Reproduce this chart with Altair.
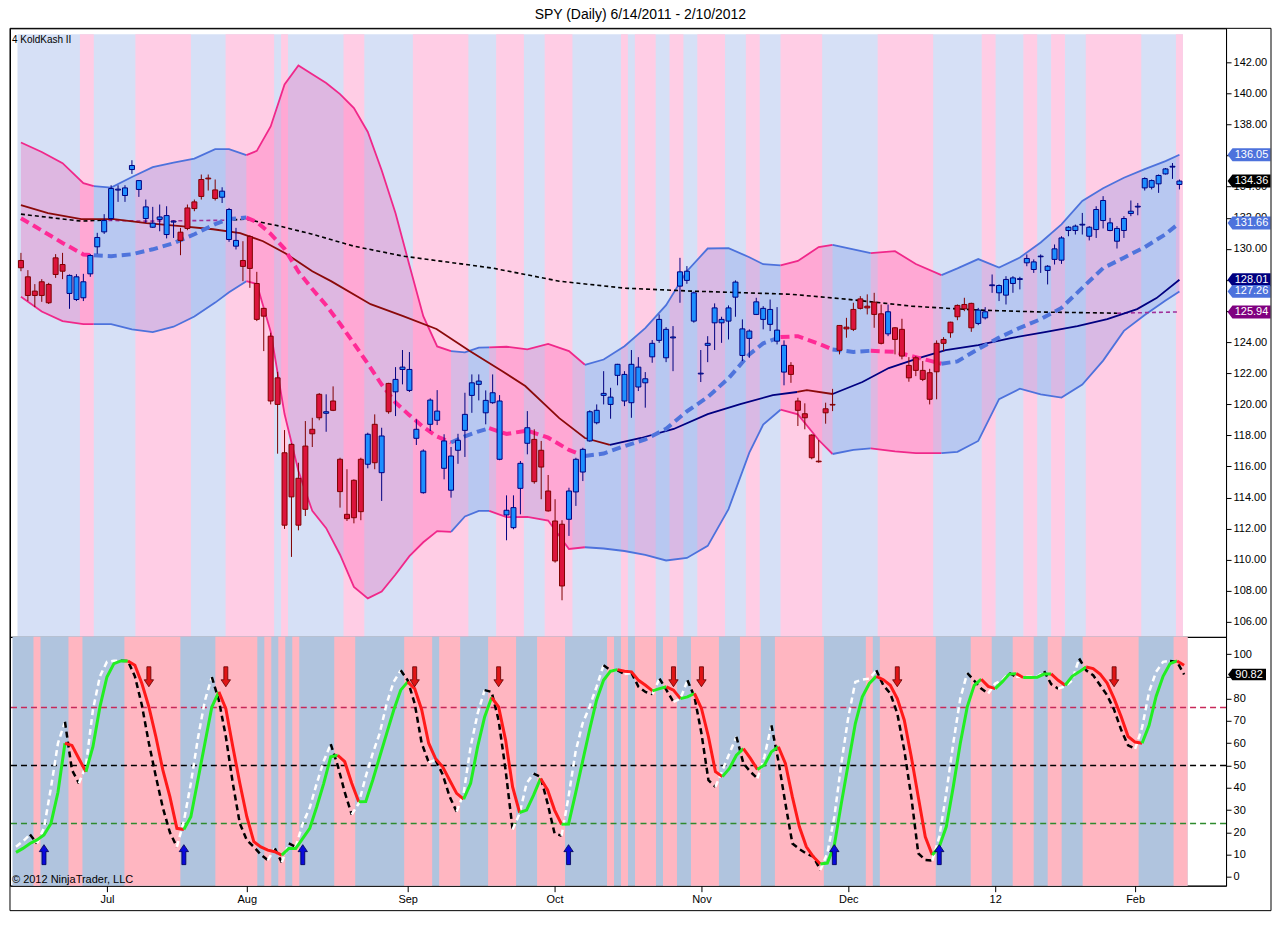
import altair as alt
import pandas as pd

# ---------------------------------------------------------------- text / axis data
TITLE = "SPY (Daily)  6/14/2011 - 2/10/2012"
INDICATOR_NAME = "4 KoldKash II"
COPYRIGHT = "\u00a9 2012 NinjaTrader, LLC"
MONTH_DAYS = [13, 33, 56, 77, 98, 119, 140, 160]
MONTH_LABELS = ["Jul", "Aug", "Sep", "Oct", "Nov", "Dec", "12", "Feb"]
PRICE_TICKS = list(range(106, 143, 2))
OSC_TICKS = list(range(0, 101, 10))

# ---------------------------------------------------------------- daily candles (trading-day index 0..167)
OPEN = [129.25, 128.20, 127.28, 127.88, 127.71, 129.42, 128.99, 127.13, 126.74, 126.85,
        128.39, 130.13, 131.09, 131.95, 133.78, 133.43, 135.10, 133.82, 131.95, 131.39,
        131.89, 130.92, 131.72, 131.07, 132.63, 133.02, 134.46, 134.55, 133.79, 133.32,
        130.60, 130.17, 129.25, 130.79, 127.77, 126.17, 124.38, 121.70, 116.88, 117.42,
        115.24, 117.31, 118.39, 120.64, 119.42, 120.21, 116.46, 112.92, 115.11, 116.46,
        116.14, 118.71, 115.60, 121.34, 120.80, 122.24, 120.89, 117.81, 114.31, 118.71,
        118.97, 115.88, 114.47, 117.04, 118.32, 120.57, 121.28, 119.45, 120.10, 116.46,
        112.88, 112.06, 114.59, 117.49, 117.74, 117.04, 114.42, 112.49, 112.28, 112.60,
        114.36, 115.64, 117.64, 118.81, 120.57, 119.99, 121.86, 120.21, 120.10, 121.11,
        121.38, 123.05, 124.11, 122.99, 124.27, 127.60, 127.97, 125.35, 121.95, 123.79,
        125.24, 125.24, 125.35, 126.89, 123.14, 124.24, 125.78, 125.46, 125.14, 124.06,
        122.07, 122.50, 120.21, 119.39, 118.02, 116.34, 119.71, 119.99, 125.07, 124.96,
        126.10, 126.78, 126.31, 126.57, 125.82, 124.53, 124.92, 124.82, 122.50, 122.99,
        122.18, 122.03, 123.92, 124.17, 125.28, 126.36, 126.42, 126.49, 125.20, 125.56,
        127.63, 127.17, 127.02, 127.77, 128.03, 129.10, 128.67, 129.49, 128.61, 129.32,
        129.27, 131.18, 131.18, 131.53, 130.81, 131.24, 131.82, 131.18, 130.49, 131.18,
        132.27, 132.69, 133.92, 133.96, 134.18, 134.82, 135.26, 134.14]
HIGH = [129.74, 128.63, 127.73, 128.05, 127.81, 129.66, 129.74, 128.35, 128.37, 128.39,
        129.66, 131.03, 132.23, 134.09, 134.09, 134.09, 135.70, 134.42, 133.17, 132.70,
        132.85, 132.74, 131.82, 131.35, 132.85, 133.17, 134.78, 134.78, 134.46, 133.96,
        132.63, 131.35, 130.49, 130.88, 128.52, 126.20, 124.60, 122.09, 118.34, 117.48,
        116.24, 118.92, 119.13, 120.72, 120.64, 121.15, 116.56, 115.82, 115.17, 116.56,
        118.17, 119.35, 118.49, 121.38, 122.39, 123.49, 123.36, 119.03, 117.10, 120.38,
        120.91, 118.07, 117.25, 118.10, 120.74, 121.92, 121.92, 120.89, 121.92, 120.59,
        114.14, 114.14, 116.35, 119.56, 118.39, 117.64, 115.45, 113.89, 112.54, 114.63,
        116.56, 117.20, 119.61, 119.99, 122.13, 121.06, 122.60, 122.13, 123.49, 123.03,
        122.07, 124.13, 125.78, 124.96, 125.03, 129.42, 128.89, 127.25, 123.49, 124.38,
        126.49, 125.63, 126.36, 127.97, 125.46, 124.82, 126.85, 126.31, 126.74, 126.25,
        124.11, 122.71, 120.42, 120.06, 118.07, 117.70, 120.10, 120.99, 125.10, 125.56,
        126.53, 126.96, 127.07, 127.17, 126.42, 126.42, 124.96, 125.50, 123.03, 123.10,
        122.78, 122.28, 124.11, 124.32, 125.31, 126.42, 126.85, 126.53, 126.20, 126.25,
        128.35, 127.71, 128.24, 128.24, 128.20, 129.64, 129.32, 129.64, 128.95, 130.28,
        130.81, 131.46, 131.56, 132.31, 131.46, 132.74, 133.39, 131.99, 131.46, 132.10,
        133.11, 132.95, 134.60, 134.46, 134.78, 135.20, 135.52, 134.46]
LOW = [128.56, 126.64, 126.25, 126.59, 126.45, 128.13, 128.05, 126.14, 126.64, 126.64,
       128.20, 129.68, 130.96, 131.82, 133.02, 133.02, 134.82, 133.34, 131.67, 131.35,
       131.13, 130.67, 130.70, 129.59, 131.20, 132.42, 133.17, 133.75, 133.11, 132.95,
       130.45, 129.96, 127.92, 127.49, 125.35, 123.42, 119.99, 116.82, 111.98, 110.18,
       111.89, 112.81, 117.25, 118.97, 118.23, 119.56, 113.35, 112.49, 112.34, 112.54,
       115.88, 115.82, 113.78, 119.39, 119.24, 121.28, 120.79, 117.38, 114.25, 118.28,
       118.66, 115.17, 113.99, 116.17, 116.61, 119.45, 120.25, 118.71, 120.03, 116.40,
       111.25, 111.96, 112.92, 116.78, 114.89, 113.89, 113.09, 109.81, 107.39, 111.53,
       113.46, 115.06, 117.59, 118.71, 119.99, 119.07, 121.22, 119.88, 119.13, 120.85,
       119.78, 122.67, 123.95, 122.71, 122.13, 126.53, 127.75, 125.25, 121.43, 122.71,
       123.49, 123.95, 124.17, 125.63, 122.78, 122.99, 125.74, 124.82, 124.71, 123.85,
       121.22, 121.38, 118.60, 118.39, 116.46, 116.24, 118.75, 119.56, 123.21, 124.28,
       124.71, 126.10, 125.78, 124.92, 123.85, 124.38, 123.21, 122.89, 121.45, 121.81,
       121.49, 119.99, 120.32, 123.42, 124.28, 125.41, 125.99, 124.66, 125.09, 125.46,
       127.17, 126.64, 126.42, 127.17, 127.39, 128.88, 128.45, 128.45, 127.71, 128.99,
       129.03, 130.81, 130.92, 130.92, 130.54, 130.70, 131.31, 131.13, 130.02, 130.70,
       132.10, 132.16, 133.75, 133.82, 133.60, 134.78, 134.50, 133.82]
CLOSE = [128.78, 127.00, 127.00, 127.00, 126.53, 128.35, 128.56, 128.29, 128.20, 127.88,
         129.57, 130.73, 131.82, 133.88, 133.84, 133.92, 135.36, 134.39, 132.70, 131.65,
         132.05, 132.14, 131.78, 130.54, 131.31, 132.59, 133.37, 134.50, 133.24, 133.71,
         132.53, 130.54, 128.87, 128.74, 125.46, 125.67, 120.21, 119.99, 112.22, 114.04,
         112.22, 113.24, 118.10, 119.13, 119.52, 119.61, 114.38, 112.64, 112.70, 113.09,
         118.07, 116.24, 117.96, 119.52, 121.60, 122.39, 122.24, 118.39, 116.99, 120.27,
         119.56, 117.64, 116.67, 117.68, 119.35, 121.38, 121.49, 120.25, 120.74, 120.21,
         113.18, 113.35, 116.20, 118.49, 115.02, 115.96, 113.14, 109.92, 108.31, 114.42,
         116.46, 117.10, 119.52, 119.61, 120.70, 120.46, 122.57, 121.92, 122.57, 122.39,
         121.64, 123.92, 125.46, 124.82, 124.33, 128.52, 128.56, 127.17, 122.00, 123.92,
         126.20, 125.46, 126.20, 127.86, 124.85, 124.71, 126.59, 126.17, 126.10, 124.77,
         123.79, 121.92, 119.61, 119.13, 116.56, 116.30, 119.45, 119.95, 123.47, 124.85,
         124.82, 126.17, 126.20, 125.78, 123.92, 125.95, 124.17, 123.10, 121.70, 122.18,
         121.60, 120.32, 122.09, 123.92, 124.60, 125.63, 126.14, 124.92, 126.06, 125.95,
         127.68, 127.64, 128.03, 128.13, 128.08, 129.38, 129.16, 129.53, 128.88, 130.00,
         130.70, 131.39, 131.46, 131.58, 131.39, 132.53, 133.11, 131.67, 131.31, 131.95,
         132.42, 132.74, 134.52, 134.39, 134.72, 135.14, 135.31, 134.36]

# ---------------------------------------------------------------- bands (read at these day positions)
BAND_DAY = [0, 3, 6, 9, 10.5, 13, 16, 19, 22, 25, 28, 30, 32.5, 34, 36, 38, 40, 42, 44, 46,
            48, 50, 52, 54, 56, 58, 60, 62, 64, 66, 67.5, 70, 73, 76, 79, 81.3, 84, 87, 90, 93,
            96, 99, 102, 105, 107, 109.5, 112, 115, 117, 120, 122.5, 126, 129, 132.7, 135, 138,
            141, 144, 147, 150, 153, 156, 159, 162, 165, 167]
UPPER = [136.84, 136.23, 135.51, 134.22, 134.03, 133.94, 134.62, 135.26, 135.55, 135.80,
         136.41, 136.41, 136.03, 136.30, 137.87, 140.57, 141.79, 141.23, 140.67, 139.95,
         139.06, 137.52, 135.06, 132.29, 128.95, 125.67, 123.72, 123.42, 123.34, 123.65,
         123.66, 123.70, 123.53, 123.88, 123.42, 122.54, 122.88, 123.73, 124.90, 126.38,
         128.56, 130.02, 130.04, 129.46, 129.01, 128.93, 129.22, 130.11, 130.26, 129.96,
         129.72, 129.85, 129.02, 128.31, 128.74, 129.34, 128.80, 129.44, 130.41, 131.57,
         133.08, 133.90, 134.57, 135.13, 135.64, 136.05]
LOWER = [126.92, 125.97, 125.35, 125.16, 125.16, 125.16, 124.82, 124.64, 124.99, 125.65,
         126.54, 127.21, 127.92, 127.74, 124.67, 119.37, 115.71, 113.14, 112.03, 110.32,
         108.25, 107.51, 107.95, 109.05, 110.23, 111.12, 111.84, 111.79, 112.78, 113.14,
         113.14, 112.74, 112.75, 112.52, 110.69, 110.80, 110.72, 110.56, 110.31, 109.95,
         110.11, 110.89, 113.25, 116.89, 118.69, 119.65, 119.35, 117.70, 116.80, 117.07,
         117.16, 116.97, 116.86, 116.86, 116.94, 117.64, 120.33, 121.00, 120.63, 120.43,
         121.27, 122.81, 124.72, 125.74, 126.67, 127.26]
MIDDLE = [131.97, 131.18, 130.38, 129.64, 129.58, 129.53, 129.65, 129.97, 130.36, 130.94,
          131.59, 131.92, 132.01, 131.73, 130.96, 130.00, 128.53, 127.41, 126.37, 125.18,
          123.91, 122.61, 121.27, 120.11, 119.30, 118.54, 117.92, 117.54, 117.94, 118.26,
          118.46, 118.09, 118.31, 117.85, 117.06, 116.67, 116.83, 117.31, 117.74, 118.42,
          119.54, 120.46, 121.67, 123.21, 123.92, 124.32, 124.38, 123.90, 123.52, 123.37,
          123.44, 123.37, 123.03, 122.61, 122.76, 123.55, 124.29, 124.92, 125.47, 126.20,
          127.49, 128.76, 129.43, 130.11, 130.94, 131.66]
BAND_TREND = [(0, 10.5, "dn"), (10.5, 32.5, "up"), (32.5, 62, "dn"), (62, 67.5, "up"),
              (67.5, 81.3, "dn"), (81.3, 109.5, "up"), (109.5, 117, "dn"), (117, 122.5, "up"),
              (122.5, 132.7, "dn"), (132.7, 167, "up")]

SMA50_DAY = [0, 3.9, 8.7, 13.4, 18.1, 23, 27.7, 31.6, 34.9, 38.1, 42, 44.7, 50.4, 55.1, 59.9,
             64.7, 69.4, 72.7, 77.6, 81.3, 84.9, 89.4, 94.1, 99, 103.7, 108.4, 111.9, 113.3,
             117, 121.3, 125.1, 129.4, 133.3, 138, 142.7, 147.6, 152.3, 156.6, 160.9, 163.7, 167]
SMA50 = [132.81, 132.29, 131.91, 131.91, 131.65, 131.46, 131.26, 131.01, 130.49, 129.72,
         128.56, 127.92, 126.44, 125.67, 124.84, 123.42, 122.13, 121.17, 119.11, 117.83,
         117.38, 117.83, 118.41, 119.37, 120.01, 120.59, 120.79, 120.91, 120.66, 121.43,
         122.33, 122.97, 123.49, 123.81, 124.26, 124.64, 125.03, 125.48, 126.12, 126.83, 128.01]
SMA50_TREND = [(0, 84.9, "dn"), (84.9, 111.9, "up"), (111.9, 117, "dn"), (117, 167, "up")]

SMA200_DAY = [0, 8.7, 11.6, 18.1, 29.6, 32.4, 37.3, 42, 48, 55.1, 68, 77.6, 87, 96.6, 110.9,
              119, 128.4, 138, 147.6, 158, 167]
SMA200 = [132.23, 131.78, 131.84, 131.78, 131.84, 131.91, 131.46, 130.94, 130.17, 129.53,
          128.76, 127.92, 127.47, 127.28, 127.08, 126.76, 126.31, 126.06, 125.93, 125.86, 125.94]
SMA200_STYLE = [(0, 11.6, "k"), (11.6, 29.6, "p"), (29.6, 158, "k"), (158, 167, "p")]

# ---------------------------------------------------------------- background stripes (pink day ranges)
TOP_PINK = [(9, 10), (17, 24), (30, 36), (38, 38), (47, 49), (57, 64), (69, 72), (76, 79),
            (87, 87), (89, 91), (94, 95), (98, 101), (105, 106), (110, 115), (124, 131),
            (139, 140), (145, 146), (149, 150), (154, 161), (167, 167)]
BOT_PINK = [(3, 3), (8, 9), (16, 23), (29, 34), (36, 36), (38, 38), (40, 40), (46, 48),
            (56, 59), (61, 63), (68, 71), (75, 78), (85, 85), (87, 87), (89, 91), (93, 94),
            (97, 100), (104, 106), (109, 115), (122, 122), (124, 131), (137, 139), (143, 145),
            (148, 149), (153, 160), (166, 167)]

# ---------------------------------------------------------------- oscillator (per day)
SLOW = [11, 12.8, 15, 16.6, 18.8, 24, 38, 60, 59, 53,
        47.2, 58.4, 76.3, 89.7, 95.7, 96.9, 96.9, 95, 86.8, 76.3,
        62.9, 47.9, 36, 21.8, 21.3, 27, 43.4, 59.9, 76.3, 83,
        75.5, 58.4, 42, 27, 15.8, 13.5, 12, 11.3, 9.8, 12.8,
        12.8, 17.3, 21.8, 31.5, 42, 53.9, 54.6, 51.7, 42, 33.7,
        33.8, 43.4, 53.9, 64.4, 74.8, 83.8, 87.5, 84.5, 75, 60,
        53, 49.4, 43.4, 37.5, 34.9, 42, 58.4, 71.8, 80.5, 76.3,
        61.4, 40.4, 28.9, 30, 36.7, 44.2, 39, 30, 23.6, 23.7,
        37.5, 51.7, 65.9, 79.3, 88.2, 92.3, 93, 92.3, 92, 88.2,
        86, 83.5, 84.5, 85.3, 83.8, 80, 80.8, 82.3, 75.6, 62.9,
        47.2, 45, 48.7, 54.6, 57.6, 53.2, 48.2, 50.2, 56.1, 58.4,
        50.9, 35.9, 22.5, 13.5, 9, 5.8, 6.2, 14.3, 33, 50.9,
        68.8, 80.8, 86.8, 90, 88.5, 86, 80, 70.3, 53.9, 35.9,
        18, 9.8, 13.5, 22.5, 40.4, 59.9, 76.3, 86, 88.7, 85.5,
        84.5, 87.5, 91, 91.2, 89.5, 89.5, 89.6, 91, 91.1, 88.2,
        86, 90, 92, 94.2, 93.5, 91, 87, 80, 72, 63,
        60.5, 60, 68, 81, 90, 95.7, 96.9, 95]
FAST = [13.5, 16, 19, 15, 22, 40, 60, 69.6, 48, 42,
        50, 75, 90, 96.5, 97, 97, 96.9, 90, 77, 60,
        45, 31, 20, 13.5, 25, 42, 62, 79, 89.7, 79.3,
        63, 42, 24, 16.5, 13.5, 10, 7.5, 12.8, 6.5, 15,
        13.5, 24, 31, 42, 52, 59.6, 50, 38, 28, 33,
        45, 55.4, 64.4, 77.8, 87.5, 92.7, 88.2, 77.8, 60, 51.5,
        52.4, 46, 36, 29.3, 37.5, 58.4, 73.3, 83.8, 83, 70.3,
        47.9, 21.3, 28.4, 42, 46.4, 44.9, 33, 19.5, 18.5, 36,
        56.1, 68.8, 76.3, 85.3, 95, 92.7, 92.7, 91, 91.5, 85.3,
        83, 82, 89, 83.8, 78.5, 80, 88.2, 80.8, 64.4, 43.4,
        40.4, 47.9, 55.4, 62.9, 50.9, 47.2, 44.2, 53.9, 68.1, 52,
        33, 15, 12.5, 10.5, 9.1, 3.1, 10.6, 27, 50.9, 71.8,
        87.5, 88.5, 89, 92.7, 86, 82.3, 73.3, 56.9, 35.9, 10.6,
        7.6, 7.3, 18, 37.5, 59.9, 80, 91.5, 88, 84.5, 82.3,
        86.8, 88.2, 91.5, 89.8, 89.8, 89.8, 89.8, 92.3, 86.5, 84.5,
        85.5, 88.2, 98, 92.7, 90.5, 86, 81.5, 75, 66, 59,
        57.5, 67, 83, 92, 96.5, 96.9, 96.5, 90.82]
LEVELS = [76, 50, 24]
UP_ARROW_DAYS = [4, 24, 41, 79, 117, 132]
DOWN_ARROW_DAYS = [19, 30, 57, 69, 94, 98, 126, 157]
UP_ARROW_LEVEL = 10.0
DOWN_ARROW_LEVEL = 89.8

# ---------------------------------------------------------------- right-edge value tags
TOP_TAG_VALUES = [136.05, 134.36, 131.66, 128.01, 127.26, 125.94]
TOP_TAG_COLORS = ["#4d72dc", "#000000", "#4d72dc", "#000080", "#4d72dc", "#800080"]
BOT_TAG_VALUES = [90.82]
BOT_TAG_COLORS = ["#000000"]

# ---------------------------------------------------------------- styling
FONT = "Liberation Sans"
W, H_TOP, H_BOT = 1217, 609, 249
RIGHT_EDGE = 1262
FRAME_BOTTOM = 274
TOP_BLUE, TOP_PINK_C = "#d6e0f6", "#ffcde5"
BOT_BLUE, BOT_PINK_C = "#b0c4de", "#ffb6c1"
PINK_LINE, BLUE_LINE = "#f0288a", "#4d72dc"

xs = alt.Scale(domain=[-6 / 7, 173], nice=False, zero=False)
ys_top = alt.Scale(domain=[105.036, 144.185], nice=False, zero=False)
ys_bot = alt.Scale(domain=[-3.92, 107.71], nice=False, zero=False)

label_expr = "".join(f"datum.value == {d} ? '{l}' : " for d, l in zip(MONTH_DAYS, MONTH_LABELS)) + "''"
X_AXIS = alt.Axis(values=MONTH_DAYS, labelExpr=label_expr, grid=False, tickSize=6,
                  tickColor="black", domainColor="black", labelFontSize=11, labelFont=FONT,
                  labelColor="black", title=None, labelPadding=2, labelAngle=0)
Y_TOP_AXIS = alt.Axis(orient="right", values=PRICE_TICKS, format=".2f", grid=False, tickSize=5,
                      tickColor="black", domainColor="black", labelFontSize=11, labelFont=FONT,
                      labelColor="black", title=None, labelPadding=2)
Y_BOT_AXIS = alt.Axis(orient="right", values=OSC_TICKS, format="d", grid=False, tickSize=5,
                      tickColor="black", domainColor="black", labelFontSize=11, labelFont=FONT,
                      labelColor="black", title=None, labelPadding=2)


def xT(f):
    return alt.X(f, type="quantitative", scale=xs, axis=None)


def xB(f):
    return alt.X(f, type="quantitative", scale=xs, axis=X_AXIS)


def yT(f):
    return alt.Y(f, type="quantitative", scale=ys_top, axis=Y_TOP_AXIS, stack=None)


def yB(f):
    return alt.Y(f, type="quantitative", scale=ys_bot, axis=Y_BOT_AXIS, stack=None)


def split(days, series, segs):
    rows = []
    for k, (a, b, tag) in enumerate(segs):
        for i, d in enumerate(days):
            if a - 1e-9 <= d <= b + 1e-9:
                r = {"d": d, "seg": f"s{k}", "tag": tag}
                for name, vals in series.items():
                    r[name] = vals[i]
                rows.append(r)
    return pd.DataFrame(rows)


def runs(vals, up_col, dn_col, prefix):
    rows, run, prev = [], 0, None
    for i in range(len(vals) - 1):
        col = up_col if vals[i + 1] >= vals[i] else dn_col
        if col != prev:
            run += 1
            rows.append({"d": i, "v": vals[i], "seg": f"{prefix}{run}", "col": col})
            prev = col
        rows.append({"d": i + 1, "v": vals[i + 1], "seg": f"{prefix}{run}", "col": col})
    return pd.DataFrame(rows)


def stripes(ranges):
    return pd.DataFrame({"a": [s - 0.5 for s, e in ranges], "b": [e + 0.5 for s, e in ranges]})


full_span = pd.DataFrame({"a": [-0.5], "b": [167.5]})

# ================================================================ TOP PANEL
top_base = alt.Chart(full_span).mark_rect(color=TOP_BLUE).encode(
    x=xT("a"), x2="b", y=alt.value(6), y2=alt.value(H_TOP))
top_pink = alt.Chart(stripes(TOP_PINK)).mark_rect(color=TOP_PINK_C).encode(
    x=xT("a"), x2="b", y=alt.value(6), y2=alt.value(H_TOP))

band = split(BAND_DAY, {"up": UPPER, "lo": LOWER, "mid": MIDDLE}, BAND_TREND)
band["fill"] = band["tag"].map({"dn": "#ff1493", "up": "#4169e1"})
band["lc"] = band["tag"].map({"dn": PINK_LINE, "up": BLUE_LINE})
band["mc"] = band["tag"].map({"dn": "#ff2a96", "up": "#4f74dc"})

band_fill = alt.Chart(band).mark_area(opacity=0.2).encode(
    x=xT("d"), y=yT("lo"), y2="up", color=alt.Color("fill:N", scale=None), detail="seg:N")
band_up = alt.Chart(band).mark_line(strokeWidth=1.8).encode(
    x=xT("d"), y=yT("up"), color=alt.Color("lc:N", scale=None), detail="seg:N")
band_lo = alt.Chart(band).mark_line(strokeWidth=1.8).encode(
    x=xT("d"), y=yT("lo"), color=alt.Color("lc:N", scale=None), detail="seg:N")
band_mid = alt.Chart(band).mark_line(strokeWidth=4, strokeDash=[9, 5]).encode(
    x=xT("d"), y=yT("mid"), color=alt.Color("mc:N", scale=None), detail="seg:N")

s200 = split(SMA200_DAY, {"v": SMA200}, SMA200_STYLE)
s200["col"] = s200["tag"].map({"k": "#000000", "p": "#a0309a"})
sma200 = alt.Chart(s200).mark_line(strokeWidth=1.6, strokeDash=[4, 3]).encode(
    x=xT("d"), y=yT("v"), color=alt.Color("col:N", scale=None), detail="seg:N")

s50 = split(SMA50_DAY, {"v": SMA50}, SMA50_TREND)
s50["col"] = s50["tag"].map({"dn": "#8b0a0a", "up": "#000080"})
sma50 = alt.Chart(s50).mark_line(strokeWidth=1.8).encode(
    x=xT("d"), y=yT("v"), color=alt.Color("col:N", scale=None), detail="seg:N")

cdf = pd.DataFrame({"d": list(range(len(OPEN))), "o": OPEN, "h": HIGH, "l": LOW, "c": CLOSE})
cdf["top"] = cdf[["o", "c"]].max(axis=1)
cdf["bot"] = cdf[["o", "c"]].min(axis=1)
up_day = cdf["c"] >= cdf["o"]
cdf["fill"] = up_day.map({True: "#1e8fff", False: "#dc143c"})
cdf["edge"] = up_day.map({True: "#000080", False: "#800000"})

wicks = alt.Chart(cdf).mark_rule(strokeWidth=1).encode(
    x=xT("d"), y=yT("l"), y2="h", color=alt.Color("edge:N", scale=None))
bodies = alt.Chart(cdf).mark_bar(size=5, strokeWidth=1).encode(
    x=xT("d"), y=yT("bot"), y2="top",
    fill=alt.Fill("fill:N", scale=None), stroke=alt.Stroke("edge:N", scale=None))

TAG_PATH = "M -1 0 L -0.77 -0.3 L 1 -0.3 L 1 0.3 L -0.77 0.3 Z"
ttag = pd.DataFrame({"v": TOP_TAG_VALUES, "col": TOP_TAG_COLORS,
                     "txt": [f"{v:.2f}" for v in TOP_TAG_VALUES]})
top_tag_shape = alt.Chart(ttag).mark_point(shape=TAG_PATH, filled=True, size=1849, opacity=1).encode(
    x=alt.value(1240), y=yT("v"), color=alt.Color("col:N", scale=None))
top_tag_text = alt.Chart(ttag).mark_text(color="white", fontSize=11, font=FONT, align="center",
                                         baseline="middle").encode(
    x=alt.value(1242.5), y=yT("v"), text="txt:N")

name_text = alt.Chart(pd.DataFrame({"t": [INDICATOR_NAME]})).mark_text(
    align="left", baseline="middle", fontSize=10, font=FONT, color="black").encode(
    x=alt.value(2), y=alt.value(12), text="t:N")

top = alt.layer(top_base, top_pink, band_fill, band_up, band_lo, sma200, sma50, band_mid,
                wicks, bodies, top_tag_shape, top_tag_text, name_text).properties(
    width=W, height=H_TOP)

# ================================================================ BOTTOM PANEL
bot_base = alt.Chart(full_span).mark_rect(color=BOT_BLUE).encode(
    x=xB("a"), x2="b", y=alt.value(0), y2=alt.value(H_BOT))
bot_pink = alt.Chart(stripes(BOT_PINK)).mark_rect(color=BOT_PINK_C).encode(
    x=xB("a"), x2="b", y=alt.value(0), y2=alt.value(H_BOT))

lv = pd.DataFrame({"lvl": LEVELS, "col": ["#c8285a", "#000000", "#2e8b2e"]})
levels = alt.Chart(lv).mark_rule(strokeWidth=1.5, strokeDash=[6, 4]).encode(
    y=yB("lvl"), color=alt.Color("col:N", scale=None))

fast = alt.Chart(runs(FAST, "#ffffff", "#000000", "f")).mark_line(
    strokeWidth=2.5, strokeDash=[6, 4]).encode(
    x=xB("d"), y=yB("v"), color=alt.Color("col:N", scale=None), detail="seg:N")
slow = alt.Chart(runs(SLOW, "#22ee22", "#ff1a1a", "s")).mark_line(strokeWidth=3).encode(
    x=xB("d"), y=yB("v"), color=alt.Color("col:N", scale=None), detail="seg:N")

UP_PATH = "M -0.2 1 L 0.2 1 L 0.2 -0.3 L 0.47 -0.3 L 0 -1 L -0.47 -0.3 L -0.2 -0.3 Z"
DOWN_PATH = "M -0.2 -1 L 0.2 -1 L 0.2 0.3 L 0.47 0.3 L 0 1 L -0.47 0.3 L -0.2 0.3 Z"
up_arrows = alt.Chart(pd.DataFrame({"d": UP_ARROW_DAYS, "v": [UP_ARROW_LEVEL] * len(UP_ARROW_DAYS)})).mark_point(
    shape=UP_PATH, filled=True, size=400, opacity=1, fill="#0a0adc", stroke="#000050", strokeWidth=0.8).encode(
    x=xB("d"), y=yB("v"))
down_arrows = alt.Chart(pd.DataFrame({"d": DOWN_ARROW_DAYS, "v": [DOWN_ARROW_LEVEL] * len(DOWN_ARROW_DAYS)})).mark_point(
    shape=DOWN_PATH, filled=True, size=400, opacity=1, fill="#e01515", stroke="#600000", strokeWidth=0.8).encode(
    x=xB("d"), y=yB("v"))

btag = pd.DataFrame({"v": BOT_TAG_VALUES, "col": BOT_TAG_COLORS,
                     "txt": [f"{v:.2f}" for v in BOT_TAG_VALUES]})
bot_tag_shape = alt.Chart(btag).mark_point(shape=TAG_PATH, filled=True, size=1444, opacity=1).encode(
    x=alt.value(1238), y=yB("v"), color=alt.Color("col:N", scale=None))
bot_tag_text = alt.Chart(btag).mark_text(color="white", fontSize=11, font=FONT, align="center",
                                         baseline="middle").encode(
    x=alt.value(1240), y=yB("v"), text="txt:N")

copy_text = alt.Chart(pd.DataFrame({"t": [COPYRIGHT]})).mark_text(
    align="left", baseline="middle", fontSize=11, font=FONT, color="black").encode(
    x=alt.value(2), y=alt.value(243), text="t:N")

# outer frame (kept inside the page so no scrollbars appear)
frame_df = pd.DataFrame({"k": [0]})
frame_left = alt.Chart(frame_df).mark_rule(color="black", strokeWidth=1).encode(
    x=alt.value(0), y=alt.value(-H_TOP), y2=alt.value(FRAME_BOTTOM))
frame_right = alt.Chart(frame_df).mark_rule(color="black", strokeWidth=1).encode(
    x=alt.value(RIGHT_EDGE), y=alt.value(-H_TOP), y2=alt.value(FRAME_BOTTOM))
frame_top = alt.Chart(frame_df).mark_rule(color="black", strokeWidth=1).encode(
    x=alt.value(0), x2=alt.value(RIGHT_EDGE), y=alt.value(-H_TOP))
frame_bottom = alt.Chart(frame_df).mark_rule(color="black", strokeWidth=1).encode(
    x=alt.value(0), x2=alt.value(RIGHT_EDGE), y=alt.value(FRAME_BOTTOM))

bot = alt.layer(bot_base, bot_pink, levels, fast, slow, up_arrows, down_arrows,
                bot_tag_shape, bot_tag_text, copy_text, frame_left, frame_right,
                frame_top, frame_bottom).properties(width=W, height=H_BOT)

chart = alt.vconcat(
    top, bot, spacing=0, bounds="flush",
    title=alt.TitleParams(TITLE, fontSize=14, fontWeight="normal", font=FONT, anchor="middle",
                          offset=5, color="black"),
).properties(padding=0).configure_view(stroke="black", strokeWidth=1)

chart.save("out.html", embed_options={"renderer": "svg", "actions": False})
